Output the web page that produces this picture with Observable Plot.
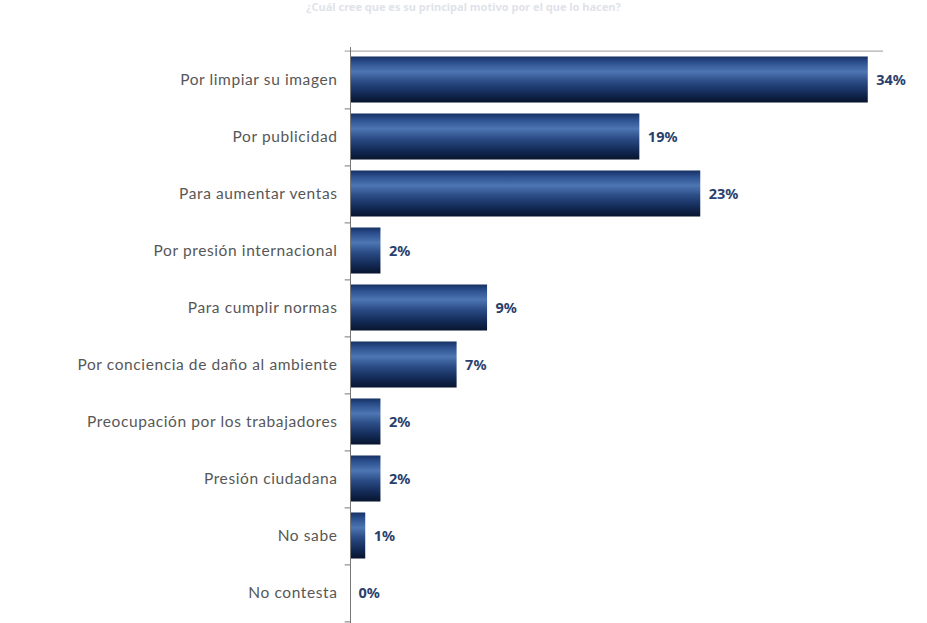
<!DOCTYPE html>
<html>
<head>
<meta charset="utf-8">
<script src="https://cdn.jsdelivr.net/npm/d3@7"></script>
<script src="https://cdn.jsdelivr.net/npm/@observablehq/plot@0.6"></script>
<style>
  html, body { margin: 0; padding: 0; background: #fff; }
  #wrap { position: relative; width: 927px; height: 623px; overflow: hidden; }
  #title { position: absolute; top: 0px; left: 0; width: 927px; text-align: center;
           font: bold 11px "Noto Sans", sans-serif; line-height: 13px; color: #dfe3ea; }
  svg { position: absolute; top: 0; left: 0; }
  svg g[aria-label="y-axis tick label"] text { letter-spacing: 0.6px; }
</style>
</head>
<body>
<div id="wrap">
  <div id="title">¿Cuál cree que es su principal motivo por el que lo hacen?</div>
</div>
<script>
const categories = [
  "Por limpiar su imagen",
  "Por publicidad",
  "Para aumentar ventas",
  "Por presión internacional",
  "Para cumplir normas",
  "Por conciencia de daño al ambiente",
  "Preocupación por los trabajadores",
  "Presión ciudadana",
  "No sabe",
  "No contesta"
];
const values = [34, 19, 23, 2, 9, 7, 2, 2, 1, 0];
const valueLabels = ["34%", "19%", "23%", "2%", "9%", "7%", "2%", "2%", "1%", "0%"];

const data = categories.map((c, i) => ({cat: c, v: values[i], label: valueLabels[i]}));

const W = 927, H = 625, mTop = 47, mBottom = 0;
const step = (H - mTop - mBottom) / categories.length;
const inset = step * 0.095;

const chart = Plot.plot({
  width: W,
  height: H,
  marginLeft: 350,
  marginRight: 44,
  marginTop: mTop,
  marginBottom: mBottom,
  style: {fontFamily: "Lato, sans-serif", background: "transparent"},
  x: {domain: [0, 35], axis: null},
  y: {domain: categories, padding: 0, label: null},
  marks: [
    Plot.axisY({tickSize: 0, tickPadding: 13, fontSize: 15.5, color: "#575757", label: null}),
    Plot.barX(data, {x: "v", y: "cat", fill: "url(#barGrad)", insetTop: inset, insetBottom: inset}),
    Plot.ruleY([categories[0]], {x1: -0.35, x2: 35, dy: -step / 2, stroke: "#9a9a9a", strokeWidth: 1}),
    Plot.ruleY(categories, {x1: -0.35, x2: 0, dy: step / 2, stroke: "#777", strokeWidth: 1}),
    Plot.ruleX([0], {stroke: "#777", strokeWidth: 1}),
    Plot.text(data, {x: "v", y: "cat", text: "label", textAnchor: "start", dx: 8,
      fill: "#2a3f6c", fontWeight: "bold", fontSize: 14.5, fontFamily: "Noto Sans, sans-serif"})
  ]
});

const svgNS = "http://www.w3.org/2000/svg";
const defs = document.createElementNS(svgNS, "defs");
defs.innerHTML = `
  <linearGradient id="barGrad" x1="0" y1="0" x2="0" y2="1">
    <stop offset="0" stop-color="#163063"/>
    <stop offset="0.12" stop-color="#2a4e8c"/>
    <stop offset="0.33" stop-color="#4d76b2"/>
    <stop offset="0.55" stop-color="#2a4b85"/>
    <stop offset="0.8" stop-color="#132a56"/>
    <stop offset="1" stop-color="#07142d"/>
  </linearGradient>`;
chart.insertBefore(defs, chart.firstChild);

document.getElementById("wrap").appendChild(chart);
</script>
</body>
</html>
